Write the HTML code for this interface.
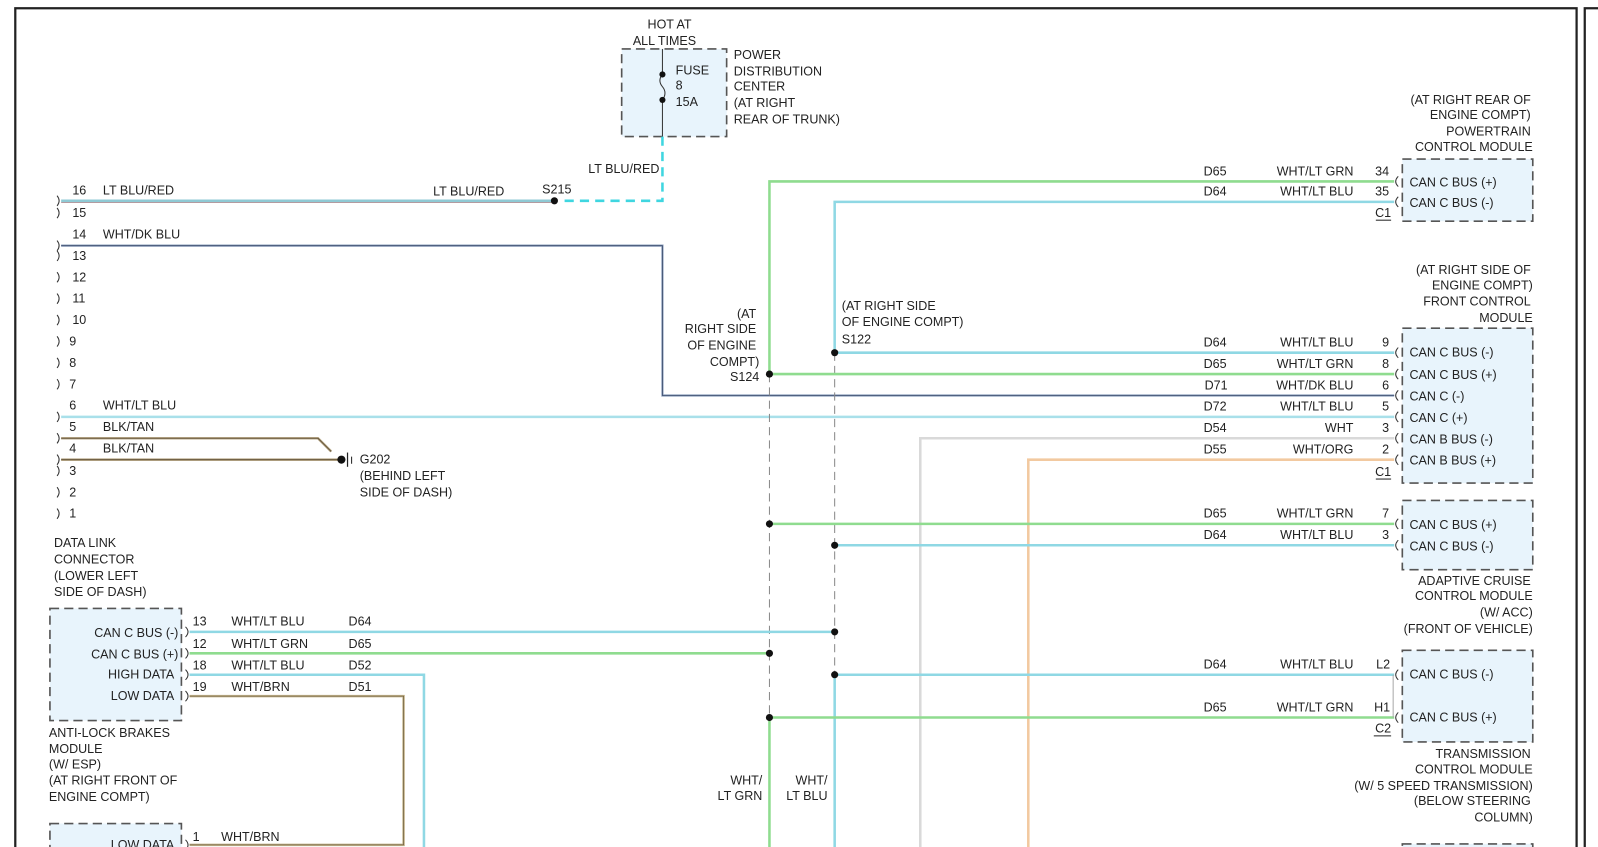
<!DOCTYPE html>
<html><head><meta charset="utf-8"><style>
html,body{margin:0;padding:0;background:#fff;}
svg{display:block;}
text{font-family:"Liberation Sans",Arial,sans-serif;font-size:12.3px;fill:#222;dominant-baseline:central;}
.r{text-anchor:end;}
.box{fill:#e8f4fc;stroke:#555;stroke-width:1.6;stroke-dasharray:9 5;}
.g{fill:none;stroke:#333;stroke-width:1;}
</style></head><body>
<svg width="1598" height="847" viewBox="0 0 1568 831" xmlns="http://www.w3.org/2000/svg">
<rect x="0" y="0" width="1568" height="831" fill="#fff"/>
<!-- frame -->
<path d="M15 831 V8 H1547 V831" fill="none" stroke="#222" stroke-width="2.2"/>
<path d="M1555 831 V8 H1568" fill="none" stroke="#222" stroke-width="2.2"/>

<!-- fuse box -->
<rect class="box" x="610" y="48" width="103" height="86"/>
<line x1="650" y1="48" x2="650" y2="134" stroke="#333" stroke-width="1"/>
<rect x="646" y="76" width="8" height="20" fill="#e8f4fc"/>
<path d="M650 73 Q645 79 650 85 Q655 91 650 98" fill="none" stroke="#333" stroke-width="1"/>
<circle cx="650" cy="73" r="3" fill="#111"/><circle cx="650" cy="98" r="3" fill="#111"/>
<text x="657" y="24" text-anchor="middle">HOT AT</text>
<text x="652" y="40" text-anchor="middle">ALL TIMES</text>
<text x="663" y="69">FUSE</text><text x="663" y="84">8</text><text x="663" y="100">15A</text>
<text x="720" y="54">POWER</text><text x="720" y="70">DISTRIBUTION</text><text x="720" y="85">CENTER</text><text x="720" y="101">(AT RIGHT</text><text x="720" y="117">REAR OF TRUNK)</text>
<path d="M650 134 V197 H548" fill="none" stroke="#3fd6e0" stroke-width="2.5" stroke-dasharray="9 6"/>
<text class="r" x="647" y="166">LT BLU/RED</text>
<text x="532" y="186">S215</text>

<!-- wires -->
<g fill="none">
<line x1="60" y1="197" x2="544" y2="197" stroke="#8fc9d4" stroke-width="2.5"/>
<line x1="60" y1="198.5" x2="544" y2="198.5" stroke="#9a7a80" stroke-width="0.8"/>
<path d="M60 241 H650 V388 H1368" stroke="#8ea0be" stroke-width="2.2"/>
<path d="M60 241 H650 V388 H1368" stroke="#3c4c6c" stroke-width="0.8"/>
<line x1="60" y1="409" x2="1368" y2="409" stroke="#a9e0ea" stroke-width="2.5"/>
<path d="M60 430 H312 L325 443" stroke="#b8a888" stroke-width="2.5"/>
<path d="M60 430 H312 L325 443" stroke="#5a4a30" stroke-width="0.8"/>
<path d="M60 451 H333" stroke="#b8a888" stroke-width="2.5"/>
<path d="M60 451 H333" stroke="#5a4a30" stroke-width="0.8"/>
<!-- verticals -->
<path d="M1368 178 H755 V367" stroke="#8fdc8f" stroke-width="2.5"/>
<line x1="755" y1="367" x2="755" y2="704" stroke="#888" stroke-width="1" stroke-dasharray="8 5"/>
<line x1="755" y1="704" x2="755" y2="831" stroke="#8fdc8f" stroke-width="2.5"/>
<path d="M1368 198 H819 V346" stroke="#8fd8e4" stroke-width="2.5"/>
<line x1="819" y1="346" x2="819" y2="662" stroke="#888" stroke-width="1" stroke-dasharray="8 5"/>
<line x1="819" y1="662" x2="819" y2="831" stroke="#8fd8e4" stroke-width="2.5"/>
<line x1="819" y1="346" x2="1368" y2="346" stroke="#8fd8e4" stroke-width="2.5"/>
<line x1="755" y1="367" x2="1368" y2="367" stroke="#8fdc8f" stroke-width="2.5"/>
<path d="M903 831 V430 H1368" stroke="#d9d9d9" stroke-width="2.5"/>
<path d="M1009 831 V451 H1368" stroke="#f2c9a0" stroke-width="2.5"/>
<line x1="755" y1="514" x2="1368" y2="514" stroke="#8fdc8f" stroke-width="2.5"/>
<line x1="819" y1="535" x2="1368" y2="535" stroke="#8fd8e4" stroke-width="2.5"/>
<line x1="186" y1="620" x2="819" y2="620" stroke="#8fd8e4" stroke-width="2.5"/>
<line x1="186" y1="641" x2="755" y2="641" stroke="#8fdc8f" stroke-width="2.5"/>
<path d="M186 662 H416 V831" stroke="#8fd8e4" stroke-width="2.5"/>
<line x1="819" y1="662" x2="1368" y2="662" stroke="#8fd8e4" stroke-width="2.5"/>
<path d="M186 683 H396 V829 H186" stroke="#c8b890" stroke-width="2.5"/>
<path d="M186 683 H396 V829 H186" stroke="#6a5a3a" stroke-width="0.7"/>
<line x1="755" y1="704" x2="1368" y2="704" stroke="#8fdc8f" stroke-width="2.5"/>
</g>
<!-- dots -->
<g fill="#111">
<circle cx="544" cy="197" r="3.5"/>
<circle cx="755" cy="367" r="3.5"/><circle cx="755" cy="514" r="3.5"/><circle cx="755" cy="641" r="3.5"/><circle cx="755" cy="704" r="3.5"/>
<circle cx="819" cy="346" r="3.5"/><circle cx="819" cy="535" r="3.5"/><circle cx="819" cy="620" r="3.5"/><circle cx="819" cy="662" r="3.5"/>
<circle cx="335" cy="451" r="4"/>
</g>
<line x1="341" y1="444" x2="341" y2="458" stroke="#222" stroke-width="1.2"/>
<line x1="345" y1="448" x2="345" y2="455" stroke="#222" stroke-width="1"/>

<!-- DLC -->
<g class="g">
<path d="M56 192 q4 5 0 10"/><path d="M56 204 q4 5 0 10"/><path d="M56 236 q4 5 0 10"/><path d="M56 246 q4 5 0 10"/><path d="M56 267 q4 5 0 10"/><path d="M56 288 q4 5 0 10"/><path d="M56 309 q4 5 0 10"/><path d="M56 330 q4 5 0 10"/><path d="M56 351 q4 5 0 10"/><path d="M56 372 q4 5 0 10"/><path d="M56 404 q4 5 0 10"/><path d="M56 425 q4 5 0 10"/><path d="M56 446 q4 5 0 10"/><path d="M56 457 q4 5 0 10"/><path d="M56 478 q4 5 0 10"/><path d="M56 499 q4 5 0 10"/>
</g>
<text x="71" y="187">16</text><text x="101" y="187">LT BLU/RED</text><text x="425" y="188">LT BLU/RED</text>
<text x="71" y="209">15</text>
<text x="71" y="230">14</text><text x="101" y="230">WHT/DK BLU</text>
<text x="71" y="251">13</text><text x="71" y="272">12</text><text x="71" y="293">11</text><text x="71" y="314">10</text>
<text x="68" y="335">9</text><text x="68" y="356">8</text><text x="68" y="377">7</text>
<text x="68" y="398">6</text><text x="101" y="398">WHT/LT BLU</text>
<text x="68" y="419">5</text><text x="101" y="419">BLK/TAN</text>
<text x="68" y="440">4</text><text x="101" y="440">BLK/TAN</text>
<text x="68" y="462">3</text><text x="68" y="483">2</text><text x="68" y="504">1</text>
<text x="53" y="533">DATA LINK</text><text x="53" y="549">CONNECTOR</text><text x="53" y="565">(LOWER LEFT</text><text x="53" y="581">SIDE OF DASH)</text>
<text x="353" y="451">G202</text><text x="353" y="467">(BEHIND LEFT</text><text x="353" y="483">SIDE OF DASH)</text>

<!-- splice labels -->
<text class="r" x="742" y="308">(AT</text><text class="r" x="742" y="323">RIGHT SIDE</text><text class="r" x="742" y="339">OF ENGINE</text><text class="r" x="745" y="355">COMPT)</text><text class="r" x="745" y="370">S124</text>
<text x="826" y="300">(AT RIGHT SIDE</text><text x="826" y="316">OF ENGINE COMPT)</text><text x="826" y="333">S122</text>
<text class="r" x="748" y="766">WHT/</text><text class="r" x="748" y="781">LT GRN</text>
<text class="r" x="812" y="766">WHT/</text><text class="r" x="812" y="781">LT BLU</text>

<!-- PCM -->
<text class="r" x="1502" y="98">(AT RIGHT REAR OF</text><text class="r" x="1502" y="113">ENGINE COMPT)</text><text class="r" x="1502" y="129">POWERTRAIN</text><text class="r" x="1504" y="144">CONTROL MODULE</text>
<rect class="box" x="1376" y="156" width="128" height="61"/>
<text x="1383" y="179">CAN C BUS (+)</text><text x="1383" y="199">CAN C BUS (-)</text>
<text x="1181" y="168">D65</text><text class="r" x="1328" y="168">WHT/LT GRN</text><text class="r" x="1363" y="168">34</text>
<text x="1181" y="188">D64</text><text class="r" x="1328" y="188">WHT/LT BLU</text><text class="r" x="1363" y="188">35</text>
<text class="r" x="1365" y="209">C1</text><line x1="1350" y1="216" x2="1365" y2="216" stroke="#222"/>

<!-- FCM -->
<text class="r" x="1502" y="265">(AT RIGHT SIDE OF</text><text class="r" x="1504" y="280">ENGINE COMPT)</text><text class="r" x="1502" y="296">FRONT CONTROL</text><text class="r" x="1504" y="312">MODULE</text>
<rect class="box" x="1376" y="322" width="128" height="152"/>
<text x="1383" y="346">CAN C BUS (-)</text><text x="1383" y="368">CAN C BUS (+)</text><text x="1383" y="389">CAN C (-)</text><text x="1383" y="410">CAN C (+)</text><text x="1383" y="431">CAN B BUS (-)</text><text x="1383" y="452">CAN B BUS (+)</text>
<text x="1181" y="336">D64</text><text class="r" x="1328" y="336">WHT/LT BLU</text><text class="r" x="1363" y="336">9</text>
<text x="1181" y="357">D65</text><text class="r" x="1328" y="357">WHT/LT GRN</text><text class="r" x="1363" y="357">8</text>
<text x="1182" y="378">D71</text><text class="r" x="1328" y="378">WHT/DK BLU</text><text class="r" x="1363" y="378">6</text>
<text x="1181" y="399">D72</text><text class="r" x="1328" y="399">WHT/LT BLU</text><text class="r" x="1363" y="399">5</text>
<text x="1181" y="420">D54</text><text class="r" x="1328" y="420">WHT</text><text class="r" x="1363" y="420">3</text>
<text x="1181" y="441">D55</text><text class="r" x="1328" y="441">WHT/ORG</text><text class="r" x="1363" y="441">2</text>
<text class="r" x="1365" y="463">C1</text><line x1="1350" y1="470" x2="1365" y2="470" stroke="#222"/>

<!-- ACC -->
<rect class="box" x="1376" y="491" width="128" height="68"/>
<text x="1383" y="515">CAN C BUS (+)</text><text x="1383" y="536">CAN C BUS (-)</text>
<text x="1181" y="504">D65</text><text class="r" x="1328" y="504">WHT/LT GRN</text><text class="r" x="1363" y="504">7</text>
<text x="1181" y="525">D64</text><text class="r" x="1328" y="525">WHT/LT BLU</text><text class="r" x="1363" y="525">3</text>
<text class="r" x="1502" y="570">ADAPTIVE CRUISE</text><text class="r" x="1504" y="585">CONTROL MODULE</text><text class="r" x="1504" y="601">(W/ ACC)</text><text class="r" x="1504" y="617">(FRONT OF VEHICLE)</text>

<!-- TCM -->
<rect class="box" x="1376" y="638" width="128" height="90"/>
<text x="1383" y="662">CAN C BUS (-)</text><text x="1383" y="704">CAN C BUS (+)</text>
<text x="1181" y="652">D64</text><text class="r" x="1328" y="652">WHT/LT BLU</text><text class="r" x="1364" y="652">L2</text>
<text x="1181" y="694">D65</text><text class="r" x="1328" y="694">WHT/LT GRN</text><text class="r" x="1364" y="694">H1</text>
<text class="r" x="1365" y="715">C2</text><line x1="1348" y1="722" x2="1365" y2="722" stroke="#222"/>
<line x1="1367" y1="662" x2="1367" y2="704" stroke="#aaa" stroke-width="1"/>
<text class="r" x="1502" y="740">TRANSMISSION</text><text class="r" x="1504" y="755">CONTROL MODULE</text><text class="r" x="1504" y="771">(W/ 5 SPEED TRANSMISSION)</text><text class="r" x="1502" y="786">(BELOW STEERING</text><text class="r" x="1504" y="802">COLUMN)</text>
<rect class="box" x="1376" y="828" width="128" height="20"/>

<!-- right connector glyphs -->
<g class="g">
<path d="M1372 173 q-5 5 0 10"/><path d="M1372 193 q-5 5 0 10"/>
<path d="M1372 341 q-5 5 0 10"/><path d="M1372 362 q-5 5 0 10"/><path d="M1372 383 q-5 5 0 10"/><path d="M1372 404 q-5 5 0 10"/><path d="M1372 425 q-5 5 0 10"/><path d="M1372 446 q-5 5 0 10"/>
<path d="M1372 509 q-5 5 0 10"/><path d="M1372 530 q-5 5 0 10"/>
<path d="M1372 657 q-5 5 0 10"/><path d="M1372 699 q-5 5 0 10"/>
</g>

<!-- ABS -->
<rect class="box" x="49" y="597" width="129" height="110"/>
<text class="r" x="175" y="621">CAN C BUS (-)</text><text class="r" x="175" y="642">CAN C BUS (+)</text><text class="r" x="171" y="662">HIGH DATA</text><text class="r" x="171" y="683">LOW DATA</text>
<g class="g">
<path d="M182 615 q5 5 0 10"/><path d="M182 636 q5 5 0 10"/><path d="M182 657 q5 5 0 10"/><path d="M182 678 q5 5 0 10"/><path d="M182 824 q5 5 0 10"/>
</g>
<text x="189" y="610">13</text><text x="227" y="610">WHT/LT BLU</text><text x="342" y="610">D64</text>
<text x="189" y="632">12</text><text x="227" y="632">WHT/LT GRN</text><text x="342" y="632">D65</text>
<text x="189" y="653">18</text><text x="227" y="653">WHT/LT BLU</text><text x="342" y="653">D52</text>
<text x="189" y="674">19</text><text x="227" y="674">WHT/BRN</text><text x="342" y="674">D51</text>
<text x="48" y="719">ANTI-LOCK BRAKES</text><text x="48" y="735">MODULE</text><text x="48" y="750">(W/ ESP)</text><text x="48" y="766">(AT RIGHT FRONT OF</text><text x="48" y="782">ENGINE COMPT)</text>
<rect class="box" x="49" y="808" width="129" height="40"/>
<text class="r" x="171" y="829">LOW DATA</text>
<text x="189" y="821">1</text><text x="217" y="821">WHT/BRN</text>
</svg>
</body></html>
